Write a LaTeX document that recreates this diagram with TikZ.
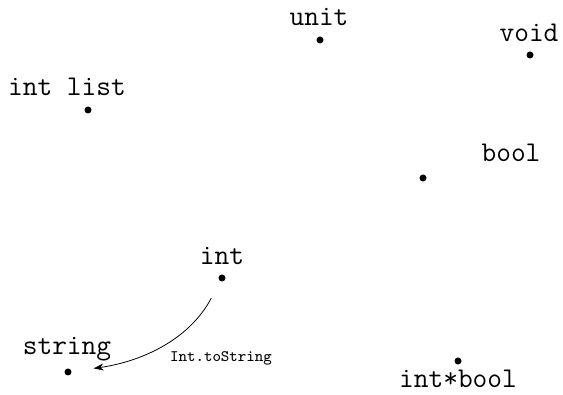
\documentclass[tikz,border=0pt]{standalone}
\usetikzlibrary{arrows.meta}
\begin{document}
\begin{tikzpicture}[x=0.5pt, y=-0.5pt,
  typept/.style={circle, fill=black, inner sep=0pt, minimum size=3.5pt},
  typename/.style={font=\ttfamily\fontsize{14.3}{17}\selectfont, inner sep=0pt, anchor=base},
  fnname/.style={font=\ttfamily\fontsize{8}{9.5}\selectfont, inner sep=0pt, anchor=base}]
  \useasboundingbox (0,0) rectangle (563,395);
  % points of the type universe
  \node[typept] (unit)    at (320,40)  {};
  \node[typept] (void)    at (530,55)  {};
  \node[typept] (intlist) at (88,110)  {};
  \node[typept] (bool)    at (423,178) {};
  \node[typept] (int)     at (222,278) {};
  \node[typept] (string)  at (68,372)  {};
  \node[typept] (pair)    at (458,361) {};
  % their names
  \node[typename] (unitL)    at (319,26)  {unit};
  \node[typename] (voidL)    at (529,42)  {void};
  \node[typename] (intlistL) at (67,96)   {int list};
  \node[typename] (boolL)    at (511,162) {bool};
  \node[typename] (intL)     at (222,265) {int};
  \node[typename] (stringL)  at (67,355)  {string};
  \node[typename] (pairL)    at (458,388) {int*bool};
  % a function between two types
  \draw[-{Stealth[length=5pt,width=3.5pt]}, shorten <=9.5pt, shorten >=11pt]
    (int) to[out=-118, in=8] (string);
  \node[fnname] (conv) at (221,362) {Int.toString};
\end{tikzpicture}
\end{document}
